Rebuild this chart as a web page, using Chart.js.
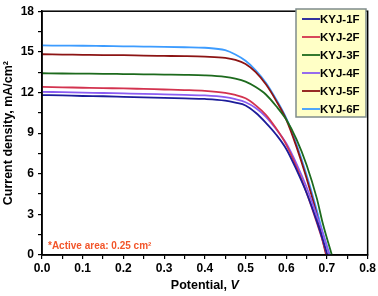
<!DOCTYPE html>
<html>
<head>
<meta charset="utf-8">
<script src="https://cdn.jsdelivr.net/npm/chart.js@4.4.0/dist/chart.umd.min.js"></script>
<style>
  html, body { margin: 0; padding: 0; background: #fff; }
  #wrap { width: 378px; height: 296px; position: relative; }
</style>
</head>
<body>
<div id="wrap"><canvas id="jv"></canvas></div>
<script>
// potential grid (V) shared by all cells, then each curve ends at its own Voc
const potential = [0, 0.05, 0.1, 0.15, 0.2, 0.25, 0.3, 0.35, 0.4, 0.45, 0.475, 0.5, 0.525, 0.55, 0.575, 0.6, 0.625, 0.65, 0.675, 0.69];

const labels = ['KYJ-1F', 'KYJ-2F', 'KYJ-3F', 'KYJ-4F', 'KYJ-5F', 'KYJ-6F'];
const colors = ['#1c1c9a', '#d3334f', '#1d6a1d', '#8b5cf2', '#8c1414', '#3d9cff'];

const j1F = [11.81, 11.78, 11.74, 11.72, 11.68, 11.64, 11.6, 11.56, 11.52, 11.4, 11.25, 11.04, 10.5, 9.76, 8.9, 7.83, 6.3, 4.58, 2.5, 1.1];
const j2F = [12.41, 12.38, 12.35, 12.32, 12.3, 12.26, 12.22, 12.18, 12.12, 11.97, 11.82, 11.57, 11.05, 10.35, 9.35, 8.15, 6.5, 4.6, 2.4, 1.0];
const j3F = [13.42, 13.4, 13.39, 13.38, 13.36, 13.34, 13.32, 13.3, 13.26, 13.15, 13.02, 12.8, 12.4, 11.85, 11.0, 10.0, 8.55, 6.65, 4.2, 2.3];
const j4F = [12.05, 12.02, 11.99, 11.96, 11.93, 11.9, 11.86, 11.82, 11.78, 11.65, 11.5, 11.28, 10.85, 10.2, 9.3, 8.25, 6.75, 5.0, 2.9, 1.6];
const j5F = [14.82, 14.8, 14.78, 14.76, 14.75, 14.72, 14.7, 14.68, 14.64, 14.55, 14.4, 14.1, 13.5, 12.6, 11.4, 10.0, 8.0, 5.66, 3.0, 1.0];
const j6F = [15.47, 15.46, 15.45, 15.43, 15.41, 15.39, 15.37, 15.34, 15.3, 15.12, 14.8, 14.34, 13.64, 12.72, 11.5, 10.1, 8.2, 5.9, 3.3, 1.6];
const voc = [0.701, 0.700, 0.712, 0.706, 0.698, 0.707];

const series = [j1F, j2F, j3F, j4F, j5F, j6F];

const FONT = 'Liberation Sans, Arial, sans-serif';

const datasets = series.map((vals, i) => {
  const pts = vals.map((j, k) => ({ x: potential[k], y: j }));
  pts.push({ x: voc[i], y: 0 });
  return {
    label: labels[i],
    data: pts,
    borderColor: colors[i],
    borderWidth: 1.8,
    pointRadius: 0,
    fill: false,
    cubicInterpolationMode: 'monotone'
  };
});

// frame, legend box, note and axis titles
const extras = {
  id: 'extras',
  afterDraw(chart) {
    const { ctx, chartArea: a } = chart;
    ctx.save();
    // box around plot
    ctx.strokeStyle = '#000';
    ctx.lineWidth = 1.5;
    ctx.strokeRect(a.left, a.top, a.right - a.left, a.bottom - a.top);

    // legend
    const lx = 296, ly = 9, lw = 70, lh = 108;
    ctx.fillStyle = '#ffffc6';
    ctx.fillRect(lx, ly, lw, lh);
    ctx.strokeStyle = '#7f8c8c';
    ctx.lineWidth = 1.5;
    ctx.strokeRect(lx, ly, lw, lh);
    ctx.font = 'bold 11.5px ' + FONT;
    ctx.textBaseline = 'middle';
    ctx.textAlign = 'left';
    labels.forEach((lab, i) => {
      const y = 19 + i * 18;
      ctx.strokeStyle = colors[i];
      ctx.lineWidth = 1.8;
      ctx.beginPath();
      ctx.moveTo(302, y);
      ctx.lineTo(320, y);
      ctx.stroke();
      ctx.fillStyle = '#000';
      ctx.fillText(lab, 320, y + 0.5);
    });

    // active area note
    ctx.fillStyle = '#f2552a';
    ctx.font = 'bold 10px ' + FONT;
    ctx.textBaseline = 'alphabetic';
    ctx.fillText('*Active area: 0.25 cm\u00b2', 48, 249);

    // x title with italic V
    ctx.fillStyle = '#000';
    const t1 = 'Potential, ';
    ctx.font = 'bold 12.5px ' + FONT;
    const w1 = ctx.measureText(t1).width;
    ctx.font = 'bold italic 12.5px ' + FONT;
    const w2 = ctx.measureText('V').width;
    const cx = (a.left + a.right) / 2;
    const sx = cx - (w1 + w2) / 2;
    ctx.textBaseline = 'middle';
    ctx.font = 'bold 12.5px ' + FONT;
    ctx.fillText(t1, sx, 286);
    ctx.font = 'bold italic 12.5px ' + FONT;
    ctx.fillText('V', sx + w1, 286);

    // y title
    ctx.translate(9, (a.top + a.bottom) / 2);
    ctx.rotate(-Math.PI / 2);
    ctx.textAlign = 'center';
    ctx.font = 'bold 12.5px ' + FONT;
    ctx.fillText('Current density, mA/cm\u00b2', 0, 0);
    ctx.restore();
  }
};

new Chart(document.getElementById('jv'), {
  type: 'line',
  data: { datasets },
  options: {
    responsive: true,
    maintainAspectRatio: false,
    animation: false,
    layout: { padding: { left: 0, right: 8, top: 6, bottom: 0 } },
    plugins: { legend: { display: false }, tooltip: { enabled: false } },
    scales: {
      x: {
        type: 'linear',
        min: 0,
        max: 0.8,
        afterFit: s => { s.height = 41; },
        afterBuildTicks: s => {
          s.ticks = Array.from({ length: 17 }, (_, k) => ({ value: k * 0.05 }));
        },
        ticks: {
          autoSkip: false,
          maxRotation: 0,
          padding: 2,
          color: '#000',
          font: { family: FONT, size: 12, weight: 'bold' },
          callback: v => (Math.round(v * 100) % 10 === 0 ? v.toFixed(1) : '')
        },
        grid: { drawOnChartArea: false, drawTicks: true, tickLength: 4, color: '#000', lineWidth: 1.2 },
        border: { display: true, color: '#000', width: 1.5 }
      },
      y: {
        type: 'linear',
        min: 0,
        max: 18,
        afterFit: s => { s.width = 42; },
        afterBuildTicks: s => {
          s.ticks = Array.from({ length: 13 }, (_, k) => ({ value: k * 1.5 }));
        },
        ticks: {
          autoSkip: false,
          padding: 4,
          color: '#000',
          font: { family: FONT, size: 12, weight: 'bold' },
          callback: v => (Math.round(v * 10) % 30 === 0 ? String(v) : '')
        },
        grid: { drawOnChartArea: false, drawTicks: true, tickLength: 4, color: '#000', lineWidth: 1.2 },
        border: { display: true, color: '#000', width: 1.5 }
      }
    }
  },
  plugins: [extras]
});
</script>
</body>
</html>
